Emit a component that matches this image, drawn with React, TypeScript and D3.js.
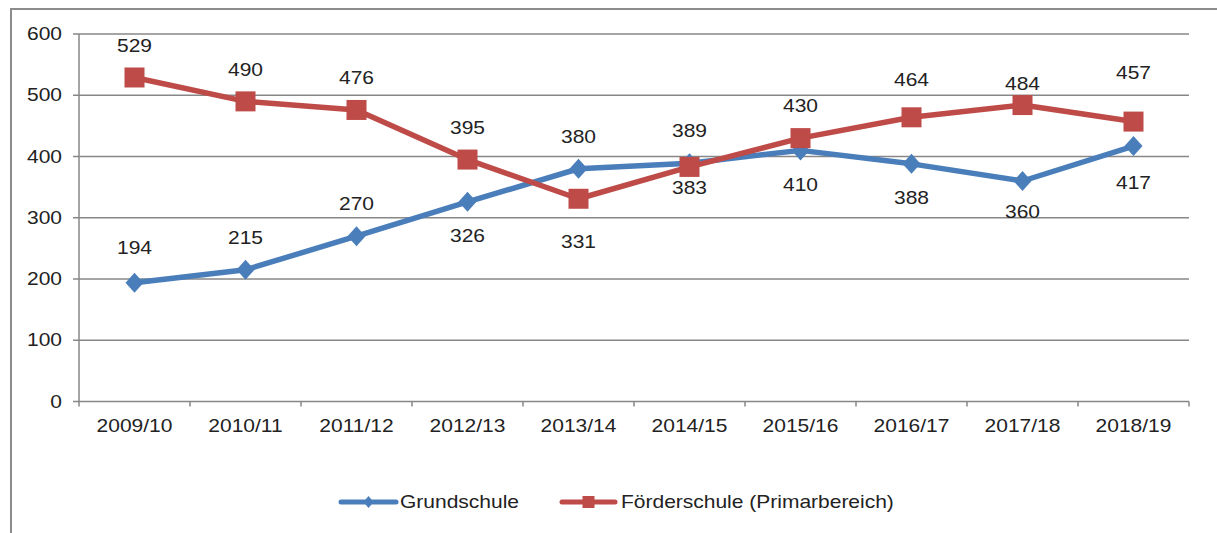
import React from "react";
import * as d3 from "d3";

const categories = ["2009/10", "2010/11", "2011/12", "2012/13", "2013/14", "2014/15", "2015/16", "2016/17", "2017/18", "2018/19"];
const grundschule = [194, 215, 270, 326, 380, 389, 410, 388, 360, 417];
const foerderschule = [529, 490, 476, 395, 331, 383, 430, 464, 484, 457];
const yTicks = [0, 100, 200, 300, 400, 500, 600];
const seriesNames = ["Grundschule", "Förderschule (Primarbereich)"];

// label offsets (px, relative to point) as placed in the original
const grundLabelOffsets = [-35, -32, -32, 34, -32, -32, 34, 34, 31, 37];
const foerderLabelOffsets = [-32, -32, -32, -32, 43, 21, -32, -37, -21, -49];

const W = 1217;
const H = 533;
const BLUE = "#4A7EBB";
const RED = "#BE4B48";
const GRID = "#878787";
const TEXT = "#222";
const FONT = "'Liberation Sans', Arial, sans-serif";
const FS = 17.5;
const SX = 1.2;

function T({ x, y, children, anchor = "middle" }: any) {
  return (
    <text
      transform={`translate(${x},${y}) scale(${SX},1)`}
      textAnchor={anchor}
      dy="0.35em"
      fontFamily={FONT}
      fontSize={FS}
      fill={TEXT}
    >
      {children}
    </text>
  );
}

export default function App() {
  const left = 79, right = 1189, top = 34, bottom = 401.5;
  const x = d3.scaleBand<string>().domain(categories).range([left, right]);
  const y = d3.scaleLinear().domain([0, 600]).range([bottom, top]);
  const cx = (i: number) => (x(categories[i]) as number) + x.bandwidth() / 2;

  const line = d3
    .line<number>()
    .x((_, i) => cx(i))
    .y((d) => y(d));

  const diamond = (px: number, py: number, rx: number, ry: number) =>
    `M${px},${py - ry}L${px + rx},${py}L${px},${py + ry}L${px - rx},${py}Z`;

  const boundaries = categories.map((c) => x(c) as number).concat([right]);

  return (
    <svg width={W} height={H} style={{ position: "absolute", left: 0, top: 0, background: "#fff" }}>
      <rect x={0} y={0} width={W} height={H} fill="#fff" />
      {/* outer frame */}
      <path d={`M11,${H}L11,9L${W},9`} fill="none" stroke="#8c8c8c" strokeWidth={2} />

      {/* gridlines */}
      {yTicks.filter((t) => t > 0).map((t) => (
        <line key={t} x1={left} x2={right} y1={y(t)} y2={y(t)} stroke={GRID} strokeWidth={1.5} />
      ))}
      {/* y axis */}
      <line x1={left} x2={left} y1={top} y2={bottom} stroke={GRID} strokeWidth={1.5} />
      {yTicks.map((t) => (
        <g key={t}>
          <line x1={left - 6} x2={left} y1={y(t)} y2={y(t)} stroke={GRID} strokeWidth={1.5} />
          <T x={62} y={y(t)} anchor="end">{t}</T>
        </g>
      ))}
      {/* x axis */}
      <line x1={left} x2={right} y1={bottom} y2={bottom} stroke={GRID} strokeWidth={1.5} />
      {boundaries.map((b, i) => (
        <line key={i} x1={b} x2={b} y1={bottom} y2={bottom + 5} stroke={GRID} strokeWidth={1.5} />
      ))}
      {categories.map((c, i) => (
        <T key={c} x={cx(i)} y={426}>{c}</T>
      ))}

      {/* Grundschule */}
      <path d={line(grundschule) as string} fill="none" stroke={BLUE} strokeWidth={5.5} strokeLinejoin="round" />
      {grundschule.map((v, i) => (
        <path key={i} d={diamond(cx(i), y(v), 9, 10)} fill={BLUE} />
      ))}
      {/* Förderschule */}
      <path d={line(foerderschule) as string} fill="none" stroke={RED} strokeWidth={5.5} strokeLinejoin="round" />
      {foerderschule.map((v, i) => (
        <rect key={i} x={cx(i) - 10} y={y(v) - 10} width={20} height={20} fill={RED} />
      ))}

      {/* data labels */}
      {grundschule.map((v, i) => (
        <T key={"g" + i} x={cx(i)} y={y(v) + grundLabelOffsets[i]}>{v}</T>
      ))}
      {foerderschule.map((v, i) => (
        <T key={"f" + i} x={cx(i)} y={y(v) + foerderLabelOffsets[i]}>{v}</T>
      ))}

      {/* legend */}
      <line x1={341} x2={396} y1={502} y2={502} stroke={BLUE} strokeWidth={5} strokeLinecap="round" />
      <path d={diamond(368.5, 502, 5, 6)} fill={BLUE} />
      <T x={400} y={502} anchor="start">{seriesNames[0]}</T>
      <line x1={562} x2={615} y1={502} y2={502} stroke={RED} strokeWidth={5} strokeLinecap="round" />
      <rect x={582.5} y={496} width={12} height={12} fill={RED} />
      <T x={621} y={502} anchor="start">{seriesNames[1]}</T>
    </svg>
  );
}
